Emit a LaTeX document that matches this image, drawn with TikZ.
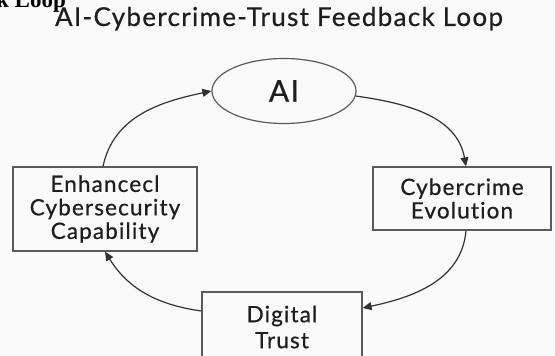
\documentclass[tikz,border=0pt]{standalone}
\usepackage{fontspec}
\setmainfont{Lato}
\newfontfamily\labelfont[LetterSpace=5,FakeBold=0.6,Ligatures=NoCommon]{Lato}
\newfontfamily\headfont{Liberation Serif}
\usetikzlibrary{shapes.geometric,arrows.meta}
\definecolor{ink}{HTML}{1E1E1E}
\definecolor{edge}{HTML}{5A5A5A}
\definecolor{wire}{HTML}{333333}
\definecolor{paper}{HTML}{FAFAFA}
\tikzset{
  box/.style={draw=edge, line width=1.2pt, rectangle, inner sep=0pt,
    align=center, text=ink, font=\labelfont\fontsize{22.5}{23.5}\selectfont},
  oval/.style={draw=edge, line width=1.2pt, ellipse, inner sep=0pt,
    text=ink, font=\labelfont\fontsize{30}{34}\selectfont},
  flow/.style={draw=wire, line width=1.2pt, -{Triangle[length=9pt,width=8pt]}},
}
\begin{document}
\begin{tikzpicture}[x=1pt,y=-1pt]
  \fill[paper] (0,0) rectangle (555,356);
  \useasboundingbox (0,0) rectangle (555,356);

  % clipped heading fragment at the top left
  \begin{scope}
    \clip (0,0) rectangle (555,356);
    \node[anchor=base west, inner sep=0pt, font=\headfont\bfseries\fontsize{23}{26}\selectfont]
      (frag) at (-4,8) {k Loop};
  \end{scope}

  % title
  \node[anchor=base, inner sep=0pt, text=ink,
    font=\labelfont\fontsize{26}{30}\selectfont] (title) at (279,26)
    {AI-Cybercrime-Trust Feedback Loop};

  % cycle members
  \node[oval, minimum width=144pt, minimum height=65pt] (ai) at (284,91) {AI};
  \node[box, minimum width=178pt, minimum height=63pt] (cyb) at (462,198.5)
    {Cybercrime\\Evolution};
  \begin{scope}
    \clip (0,0) rectangle (555,356);
    \node[box, minimum width=160pt, minimum height=70pt,
      font=\labelfont\fontsize{22.5}{26}\selectfont] (dig) at (282,327)
      {Digital\\Trust};
  \end{scope}
  \node[box, minimum width=184pt, minimum height=84pt] (enh) at (105,209)
    {Enhancecl\\Cybersecurity\\Capability};

  % feedback arrows
  \draw[flow] ([xshift=-2pt]enh.north) to[out=78, in=192] (ai.west);
  \draw[flow] (ai.-4) to[out=-8, in=100] ([xshift=4pt]cyb.north);
  \draw[flow] ([xshift=4pt]cyb.south) to[out=-95, in=12] ([yshift=19pt]dig.east);
  \draw[flow] ([yshift=16pt]dig.west) to[out=172, in=-58] (enh.south);
\end{tikzpicture}
\end{document}
